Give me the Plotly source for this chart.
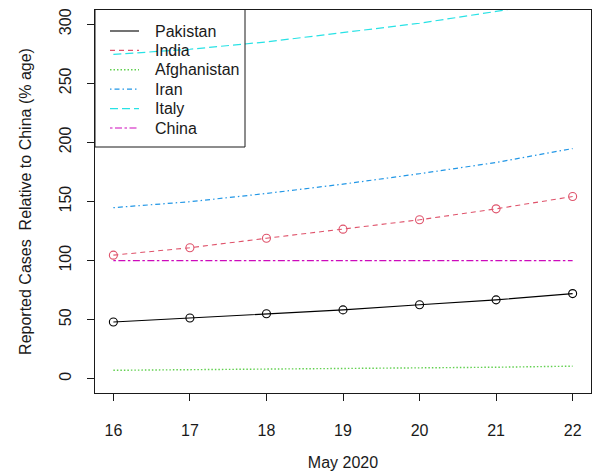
import plotly.graph_objects as go

# Reported cases of each country as a percentage of China's, 16-22 May 2020
days = [16, 17, 18, 19, 20, 21, 22]
pakistan = [48.0, 51.4, 55.0, 58.3, 62.6, 66.8, 72.1]
india = [104.6, 110.9, 118.9, 126.6, 134.5, 143.8, 154.2]
afghanistan = [7.2, 7.6, 8.2, 8.8, 9.2, 9.8, 10.7]
iran = [144.8, 149.8, 156.8, 164.7, 173.5, 183.0, 194.8]
italy = [274.4, 278.8, 285.0, 292.6, 300.8, 310.8, 321.5]
china = [100, 100, 100, 100, 100, 100, 100]

y_ticks = [0, 50, 100, 150, 200, 250, 300]

FONT = "Liberation Sans, Arial, sans-serif"
INK = "#1a1a1a"
W, H = 592, 474
M_L, M_R, M_T, M_B = 95, 1, 10, 81

series = [
    ("Pakistan", pakistan, "#000000", "solid", 1.1, True),
    ("India", india, "#DF536B", "5px,4px", 1.1, True),
    ("Afghanistan", afghanistan, "#61D04F", "1.5px,2px", 1.4, False),
    ("Iran", iran, "#2297E6", "1.5px,3px,5px,3px", 1.2, False),
    ("Italy", italy, "#28E2E5", "8px,4px", 1.2, False),
    ("China", china, "#CD0BBC", "2.5px,2.5px,7px,2.5px", 1.2, False),
]

fig = go.Figure()
for name, values, color, dash, lw, with_points in series:
    fig.add_trace(go.Scatter(
        x=days, y=values, name=name, mode="lines", showlegend=False,
        line=dict(color=color, width=lw, dash=dash),
    ))
    if with_points:
        fig.add_trace(go.Scatter(
            x=days, y=values, name=name, mode="markers", showlegend=False,
            marker=dict(symbol="circle-open", size=8, color=color,
                        line=dict(width=1.1, color=color)),
        ))


# Key in the top-left corner of the plotting box (pixel positions -> paper)
def px_x(px):
    return (px - M_L) / (W - M_L - M_R)


def px_y(py):
    return 1 - (py - M_T) / (H - M_T - M_B)


shapes = [dict(type="rect", xref="paper", yref="paper",
               x0=px_x(95), x1=px_x(245), y0=px_y(147), y1=px_y(9.5),
               line=dict(color=INK, width=1), fillcolor="rgba(0,0,0,0)")]
annotations = []
for i, (name, _, color, dash, lw, _) in enumerate(series):
    row = 31 + 19.4 * i
    shapes.append(dict(type="line", xref="paper", yref="paper",
                       x0=px_x(110), x1=px_x(139), y0=px_y(row), y1=px_y(row),
                       line=dict(color=color, width=lw, dash=dash)))
    annotations.append(dict(xref="paper", yref="paper", x=px_x(153), y=px_y(row),
                            text=name, showarrow=False, xanchor="left",
                            yanchor="middle",
                            font=dict(family=FONT, size=16, color=INK)))

fig.update_layout(
    width=W, height=H,
    margin=dict(l=M_L, r=M_R, t=M_T, b=M_B),
    paper_bgcolor="white", plot_bgcolor="white",
    font=dict(family=FONT, size=16, color=INK),
    showlegend=False,
    shapes=shapes, annotations=annotations,
)

fig.update_xaxes(
    range=[15.76, 22.24], tickmode="array", tickvals=days,
    ticktext=[str(d) for d in days],
    ticks="outside", ticklen=7, tickwidth=1, tickcolor=INK,
    showline=True, linecolor=INK, linewidth=1, mirror=True,
    showgrid=False, zeroline=False, ticklabelstandoff=16,
    tickfont=dict(family=FONT, size=16, color=INK),
    title=dict(text="May 2020", font=dict(family=FONT, size=16, color=INK),
               standoff=18),
)
fig.update_yaxes(
    range=[-12, 312], tickmode="array", tickvals=y_ticks,
    ticktext=[str(v) for v in y_ticks], tickangle=-90,
    ticks="outside", ticklen=7, tickwidth=1, tickcolor=INK,
    showline=True, linecolor=INK, linewidth=1, mirror=True,
    showgrid=False, zeroline=False, ticklabelstandoff=10,
    tickfont=dict(family=FONT, size=16, color=INK),
    title=dict(text="Reported Cases  Relative to China (% age)",
               font=dict(family=FONT, size=16, color=INK), standoff=20),
)

fig.write_html("out.html")
